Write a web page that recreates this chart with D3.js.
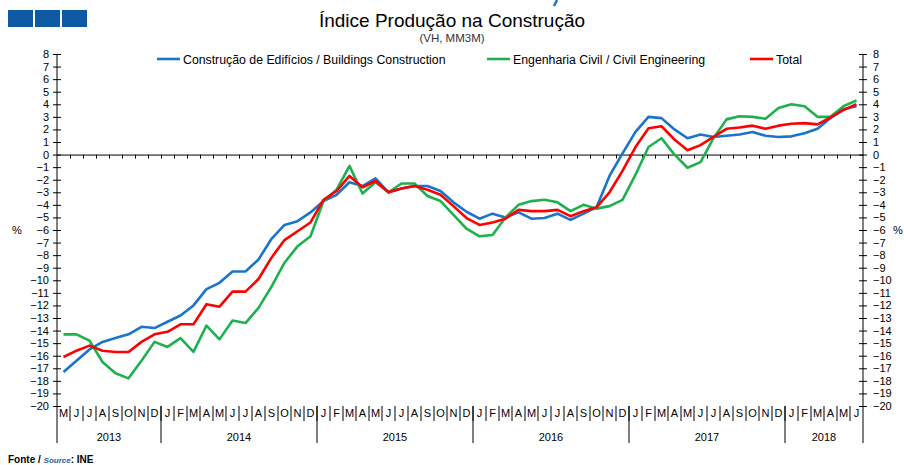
<!DOCTYPE html>
<html>
<head>
<meta charset="utf-8">
<script src="https://cdn.jsdelivr.net/npm/d3@7"></script>
<style>
  body { margin: 0; background: #fff; }
  svg { font-family: "Liberation Sans", Arial, sans-serif; }
  .axis text { font-size: 11px; fill: #000; }
  .axis path, .axis line { stroke: #000; }
</style>
</head>
<body>
<svg class="chart"></svg>
<script>
// month initials, May 2013 .. Jun 2018
const monthLabels = ["M","J","J","A","S","O","N","D",
  "J","F","M","A","M","J","J","A","S","O","N","D",
  "J","F","M","A","M","J","J","A","S","O","N","D",
  "J","F","M","A","M","J","J","A","S","O","N","D",
  "J","F","M","A","M","J","J","A","S","O","N","D",
  "J","F","M","A","M","J"];
const years = ["2013", "2014", "2015", "2016", "2017", "2018"];
const monthsPerYear = [8, 12, 12, 12, 12, 6];

const buildings = [-17.3, -16.4, -15.5, -14.9, -14.6, -14.3, -13.7, -13.8,
  -13.3, -12.8, -12.0, -10.7, -10.2, -9.3, -9.3, -8.35, -6.7, -5.6, -5.3, -4.6,
  -3.7, -3.2, -2.2, -2.5, -1.9, -3.0, -2.7, -2.5, -2.5, -2.9, -3.8, -4.55,
  -5.1, -4.7, -5.0, -4.6, -5.1, -5.05, -4.7, -5.2, -4.7, -4.2, -1.7, 0.1,
  1.8, 3.0, 2.9, 2.0, 1.3, 1.6, 1.4, 1.5, 1.6, 1.8, 1.5, 1.4,
  1.45, 1.7, 2.05, 2.9, 3.6, 3.85];
const civil = [-14.3, -14.3, -14.8, -16.5, -17.4, -17.8, -16.4, -14.9,
  -15.3, -14.6, -15.7, -13.6, -14.7, -13.2, -13.4, -12.2, -10.5, -8.6, -7.3, -6.5,
  -3.7, -2.8, -0.9, -3.1, -2.2, -3.0, -2.3, -2.3, -3.3, -3.7, -4.8, -5.9,
  -6.5, -6.4, -5.0, -4.0, -3.7, -3.6, -3.8, -4.5, -4.0, -4.3, -4.1, -3.6,
  -1.6, 0.6, 1.3, 0.0, -1.05, -0.6, 1.3, 2.8, 3.05, 3.0, 2.85, 3.7,
  4.0, 3.85, 3.0, 3.0, 3.85, 4.3];
const total = [-16.1, -15.6, -15.2, -15.6, -15.7, -15.7, -14.9, -14.3,
  -14.1, -13.5, -13.5, -11.9, -12.1, -10.9, -10.9, -9.9, -8.2, -6.8, -6.1, -5.4,
  -3.6, -2.9, -1.7, -2.6, -2.1, -3.0, -2.7, -2.5, -2.8, -3.2, -4.1, -5.05,
  -5.6, -5.4, -5.1, -4.4, -4.5, -4.5, -4.4, -4.9, -4.5, -4.2, -3.0, -1.3,
  0.6, 2.1, 2.25, 1.2, 0.35, 0.75, 1.4, 2.05, 2.15, 2.3, 2.05, 2.3,
  2.45, 2.5, 2.4, 2.95, 3.55, 4.0];

const seriesNames = ["Construção de Edifícios / Buildings Construction",
  "Engenharia Civil / Civil Engineering", "Total"];
const seriesColors = ["#1a75c9", "#1db04e", "#ff0000"];
const seriesData = [buildings, civil, total];

const W = 904, H = 465;
const plot = {left: 57, right: 863, top: 54, bottom: 406};

const svg = d3.select(".chart").attr("width", W).attr("height", H);

const idx = d3.range(monthLabels.length);
const x = d3.scaleBand().domain(idx).range([plot.left, plot.right]);
const xi = d3.scaleLinear().domain([0, idx.length]).range([plot.left, plot.right]);
const y = d3.scaleLinear().domain([-20, 8]).range([plot.bottom, plot.top]);

// logo squares + the clipped bit of header art at the top edge
svg.selectAll(".logo").data([0, 1, 2]).enter().append("rect")
  .attr("x", d => 8 + d * 27).attr("y", 10)
  .attr("width", 25).attr("height", 17)
  .attr("fill", "#0d5aa2");
svg.append("line").attr("x1", 557).attr("y1", 0).attr("x2", 554).attr("y2", 6)
  .attr("stroke", "#1a75c9").attr("stroke-width", 2.5);

// titles
svg.append("text").attr("x", 452).attr("y", 27)
  .attr("text-anchor", "middle").style("font-size", "19px")
  .text("Índice Produção na Construção");
svg.append("text").attr("x", 452).attr("y", 42)
  .attr("text-anchor", "middle").style("font-size", "11.5px").attr("fill", "#333")
  .text("(VH, MM3M)");

// y axes
const yTicks = d3.range(-20, 9);
const yl = svg.append("g").attr("class", "axis")
  .attr("transform", "translate(" + plot.left + ",0)")
  .call(d3.axisLeft(y).tickValues(yTicks).tickSize(4).tickSizeOuter(0).tickPadding(4));
yl.selectAll(".tick line").attr("x1", 4);
yl.select(".domain").remove();

const yr = svg.append("g").attr("class", "axis")
  .attr("transform", "translate(" + plot.right + ",0)")
  .call(d3.axisRight(y).tickValues(yTicks).tickSize(4).tickSizeOuter(0).tickPadding(6));
yr.selectAll(".tick line").attr("x1", -4);
yr.select(".domain").remove();

// vertical axis lines down through the month/year band
svg.append("line").attr("x1", plot.left).attr("x2", plot.left).attr("y1", plot.top).attr("y2", 443).attr("stroke", "#000");
svg.append("line").attr("x1", plot.right).attr("x2", plot.right).attr("y1", plot.top).attr("y2", 443).attr("stroke", "#000");

svg.append("text").attr("x", 12).attr("y", y(-6) + 4).style("font-size", "11px").text("%");
svg.append("text").attr("x", 893).attr("y", y(-6) + 4).style("font-size", "11px").text("%");

// zero line with month ticks
svg.append("g").attr("class", "axis")
  .attr("transform", "translate(0," + y(0) + ")")
  .call(d3.axisBottom(xi).tickValues(d3.range(1, idx.length)).tickSize(4).tickSizeOuter(0).tickFormat(""));

// month labels
const mAxis = svg.append("g").attr("class", "axis")
  .attr("transform", "translate(0," + plot.bottom + ")")
  .call(d3.axisBottom(x).tickSize(0).tickPadding(3).tickFormat(i => monthLabels[i]));
mAxis.select(".domain").remove();

svg.selectAll(".msep").data(d3.range(1, idx.length)).enter().append("line")
  .attr("x1", d => xi(d)).attr("x2", d => xi(d))
  .attr("y1", plot.bottom).attr("y2", 421).attr("stroke", "#000");

// year labels and separators
const yearEnds = d3.cumsum(monthsPerYear);
const yearStarts = yearEnds.map((e, i) => e - monthsPerYear[i]);
svg.selectAll(".ysep").data(yearEnds.slice(0, -1)).enter().append("line")
  .attr("x1", d => xi(d)).attr("x2", d => xi(d))
  .attr("y1", plot.bottom).attr("y2", 443).attr("stroke", "#000");
svg.selectAll(".ylab").data(years).enter().append("text")
  .attr("x", (d, i) => xi((yearStarts[i] + yearEnds[i]) / 2))
  .attr("y", 441).attr("text-anchor", "middle").style("font-size", "11px")
  .text(d => d);

// lines
const line = d3.line().x((v, i) => x(i) + x.bandwidth() / 2).y(v => y(v));
svg.selectAll(".series").data(seriesData).enter().append("path")
  .attr("d", line).attr("fill", "none")
  .attr("stroke", (d, i) => seriesColors[i]).attr("stroke-width", 2.6)
  .attr("stroke-linejoin", "round");

// legend
const legendX = [157, 487, 750];
const legend = svg.selectAll(".legend").data(seriesNames).enter().append("g")
  .attr("transform", (d, i) => "translate(" + legendX[i] + ",59)");
legend.append("line").attr("x1", 0).attr("x2", 23)
  .attr("stroke", (d, i) => seriesColors[i]).attr("stroke-width", 2.6);
legend.append("text").attr("x", 26).attr("y", 4.5).style("font-size", "12.3px").text(d => d);

// source
const src = svg.append("text").attr("x", 8).attr("y", 463)
  .style("font-size", "10px").style("font-weight", "bold");
src.append("tspan").text("Fonte / ");
src.append("tspan").style("font-style", "italic").attr("fill", "#1f5ba8").style("font-size", "8px").text("Source");
src.append("tspan").text(": INE");
</script>
</body>
</html>
